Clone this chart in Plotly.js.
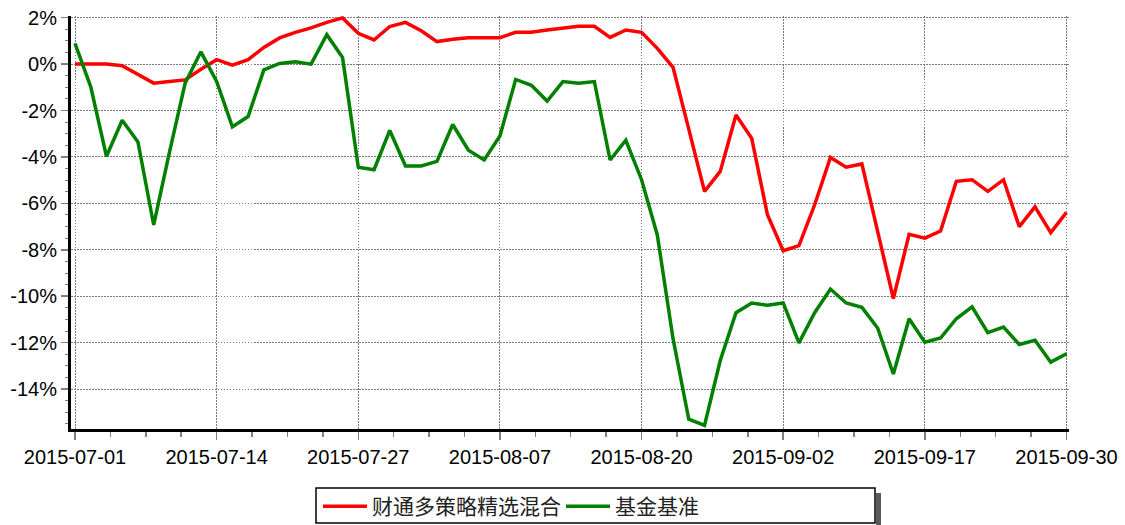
<!DOCTYPE html>
<html>
<head>
<meta charset="utf-8">
<script src="https://cdn.plot.ly/plotly-3.0.1.min.js"></script>
<style>html,body{margin:0;padding:0;background:#fff;}#chart{width:1125px;height:525px;}</style>
</head>
<body>
<div id="chart"></div>
<script>
// Trading days, 2015-07-01 .. 2015-09-30
const dates = [
  "2015-07-01","2015-07-02","2015-07-03","2015-07-06","2015-07-07","2015-07-08","2015-07-09","2015-07-10",
  "2015-07-13","2015-07-14","2015-07-15","2015-07-16","2015-07-17","2015-07-20","2015-07-21","2015-07-22",
  "2015-07-23","2015-07-24","2015-07-27","2015-07-28","2015-07-29","2015-07-30","2015-07-31",
  "2015-08-03","2015-08-04","2015-08-05","2015-08-06","2015-08-07","2015-08-10","2015-08-11","2015-08-12",
  "2015-08-13","2015-08-14","2015-08-17","2015-08-18","2015-08-19","2015-08-20","2015-08-21","2015-08-24",
  "2015-08-25","2015-08-26","2015-08-27","2015-08-28","2015-08-31",
  "2015-09-01","2015-09-02","2015-09-07","2015-09-08","2015-09-09","2015-09-10","2015-09-11","2015-09-14",
  "2015-09-15","2015-09-16","2015-09-17","2015-09-18","2015-09-21","2015-09-22","2015-09-23","2015-09-24",
  "2015-09-25","2015-09-28","2015-09-29","2015-09-30"
];

// 财通多策略精选混合 cumulative return (%)
const fundValues = [
  0, 0, 0, -0.07, -0.43, -0.82, -0.75, -0.68, -0.22, 0.19,
  -0.04, 0.19, 0.72, 1.13, 1.37, 1.56, 1.80, 1.99, 1.33, 1.04,
  1.62, 1.80, 1.44, 0.97, 1.07, 1.14, 1.14, 1.14, 1.37, 1.37,
  1.47, 1.56, 1.63, 1.63, 1.15, 1.47, 1.37, 0.68, -0.14, -2.80,
  -5.48, -4.62, -2.19, -3.20, -6.49, -8.04, -7.82, -6.06, -4.02, -4.44,
  -4.30, -7.21, -10.10, -7.33, -7.50, -7.19, -5.05, -4.98, -5.48, -4.98,
  -7.00, -6.15, -7.26, -6.39
];

// 基金基准 cumulative return (%)
const benchValues = [
  0.89, -0.98, -3.97, -2.42, -3.35, -6.93, -3.80, -0.82, 0.53, -0.75,
  -2.70, -2.26, -0.25, 0.03, 0.10, 0.00, 1.27, 0.29, -4.44, -4.55,
  -2.86, -4.39, -4.39, -4.19, -2.60, -3.71, -4.13, -3.10, -0.66, -0.91,
  -1.59, -0.75, -0.82, -0.75, -4.13, -3.28, -4.98, -7.36, -11.83, -15.30,
  -15.56, -12.77, -10.71, -10.29, -10.39, -10.29, -12.01, -10.71, -9.69, -10.29,
  -10.48, -11.37, -13.35, -10.97, -11.98, -11.80, -10.97, -10.46, -11.57, -11.33,
  -12.08, -11.90, -12.84, -12.48
];

const seriesNames = ["财通多策略精选混合", "基金基准"];
const tickDates = ["2015-07-01","2015-07-14","2015-07-27","2015-08-07","2015-08-20","2015-09-02","2015-09-17","2015-09-30"];
const yTicks = [2, 0, -2, -4, -6, -8, -10, -12, -14];

const idx = dates.map((d, i) => i);

const traces = [
  {x: idx, y: fundValues, name: seriesNames[0], type: "scatter", mode: "lines",
   line: {color: "#ff0000", width: 3.5}, text: dates, hoverinfo: "text+y"},
  {x: idx, y: benchValues, name: seriesNames[1], type: "scatter", mode: "lines",
   line: {color: "#008000", width: 3.5}, text: dates, hoverinfo: "text+y"}
];

const W = 1125, H = 525;
const L = 71, R = 56, T = 16, B = 96;
const pw = W - L - R, ph = H - T - B;
const px = v => (v - L) / pw;
const py = v => (H - B - v) / ph;

const layout = {
  width: W, height: H,
  margin: {l: L, r: R, t: T, b: B, pad: 0, autoexpand: false},
  paper_bgcolor: "#ffffff", plot_bgcolor: "#ffffff",
  font: {family: "Liberation Sans, Arial, sans-serif", size: 20, color: "#000"},
  showlegend: true,
  xaxis: {
    range: [-0.254, 63.16],
    tickmode: "array",
    tickvals: tickDates.map(d => dates.indexOf(d)),
    ticktext: tickDates,
    ticks: "outside", ticklen: 8, tickwidth: 1.5, tickcolor: "#808080",
    showline: true, linecolor: "#000", linewidth: 3,
    showgrid: true, gridcolor: "#7a7a7a", gridwidth: 1, griddash: "1.5px,1.5px",
    zeroline: false,
    tickfont: {size: 20, color: "#000"},
    minor: {tickmode: "linear", tick0: 0, dtick: 2.25, ticks: "outside", ticklen: 5, tickwidth: 1.5, tickcolor: "#808080", showgrid: false}
  },
  yaxis: {
    range: [-15.72, 2.073],
    tickmode: "array",
    tickvals: yTicks,
    ticktext: yTicks.map(v => v + "%"),
    ticks: "outside", ticklen: 7, tickwidth: 1.5, tickcolor: "#808080",
    showline: true, linecolor: "#000", linewidth: 3,
    showgrid: true, gridcolor: "#7a7a7a", gridwidth: 1, griddash: "1.5px,1.5px",
    zeroline: false,
    tickfont: {size: 20, color: "#000"},
    minor: {tickmode: "linear", tick0: 0, dtick: 0.5, ticks: "outside", ticklen: 3, tickwidth: 1, tickcolor: "#808080", showgrid: false}
  },
  legend: {
    orientation: "h",
    x: px(318), xanchor: "left",
    y: py(486), yanchor: "top",
    bgcolor: "rgba(0,0,0,0)", borderwidth: 0,
    font: {family: "Noto Sans CJK SC, sans-serif", size: 21, color: "#222"},
    itemwidth: 44,
    entrywidth: 184, entrywidthmode: "pixels",
    itemclick: false, itemdoubleclick: false
  },
  shapes: [
    {type: "rect", xref: "paper", yref: "paper", x0: px(876), x1: px(881), y0: py(525), y1: py(493),
     fillcolor: "#5a5a5a", line: {width: 0}, layer: "above"},
    {type: "rect", xref: "paper", yref: "paper", x0: px(316), x1: px(875), y0: py(523), y1: py(488),
     fillcolor: "#ffffff", line: {color: "#000", width: 1.5}, layer: "above"}
  ]
};

Plotly.newPlot("chart", traces, layout, {displayModeBar: false, staticPlot: true});
</script>
</body>
</html>
